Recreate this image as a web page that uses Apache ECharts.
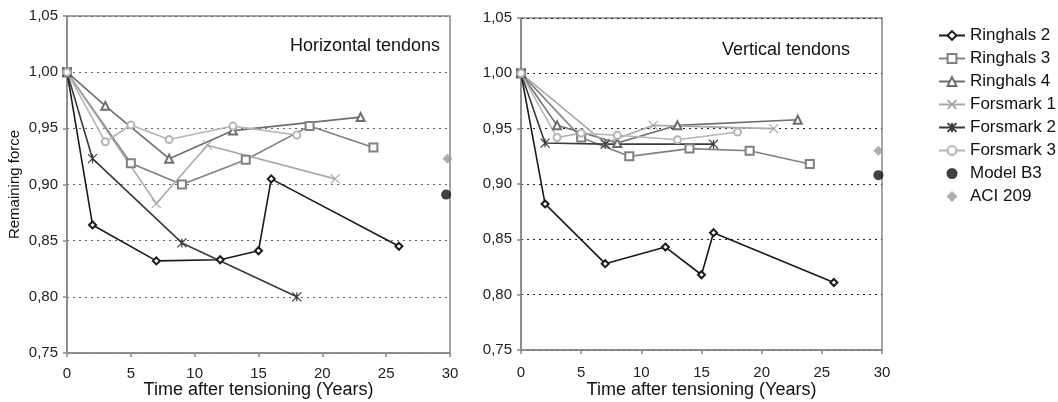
<!DOCTYPE html>
<html>
<head>
<meta charset="utf-8">
<script src="https://cdn.jsdelivr.net/npm/echarts@6/dist/echarts.min.js"></script>
<style>
html,body{margin:0;padding:0;background:#fff;}
#chart{width:1058px;height:402px;}
</style>
</head>
<body>
<div id="chart"></div>
<script>
// ---- Data ----
const seriesNames = ['Ringhals 2','Ringhals 3','Ringhals 4','Forsmark 1','Forsmark 2','Forsmark 3','Model B3','ACI 209'];
const panelTitles = ['Horizontal tendons','Vertical tendons'];
const xTicks = [0,5,10,15,20,25,30];
const yTicks = [0.75,0.80,0.85,0.90,0.95,1.00,1.05];

// Horizontal tendons [years, remaining force]
const hRinghals2 = [[0,1.000],[2,0.864],[7,0.832],[12,0.833],[15,0.841],[16,0.905],[26,0.845]];
const hRinghals3 = [[0,1.000],[5,0.919],[9,0.900],[14,0.922],[19,0.952],[24,0.933]];
const hRinghals4 = [[0,1.000],[3,0.970],[8,0.923],[13,0.948],[23,0.960]];
const hForsmark1 = [[0,1.000],[7,0.883],[11,0.935],[21,0.905]];
const hForsmark2 = [[0,1.000],[2,0.923],[9,0.848],[18,0.800]];
const hForsmark3 = [[0,1.000],[3,0.938],[5,0.953],[8,0.940],[13,0.952],[18,0.944]];
const hModelB3 = [[29.7,0.891]];
const hACI209 = [[29.8,0.923]];

// Vertical tendons
const vRinghals2 = [[0,1.000],[2,0.882],[7,0.828],[12,0.843],[15,0.818],[16,0.856],[26,0.811]];
const vRinghals3 = [[0,1.000],[5,0.942],[9,0.925],[14,0.932],[19,0.930],[24,0.918]];
const vRinghals4 = [[0,1.000],[3,0.953],[8,0.937],[13,0.953],[23,0.958]];
const vForsmark1 = [[0,1.000],[7,0.937],[11,0.953],[21,0.950]];
const vForsmark2 = [[0,1.000],[2,0.937],[7,0.936],[16,0.936]];
const vForsmark3 = [[0,1.000],[3,0.942],[5,0.946],[8,0.944],[13,0.940],[18,0.947]];
const vModelB3 = [[29.7,0.908]];
const vACI209 = [[29.7,0.930]];

// ---- Styles ----
const FONT = '"Liberation Sans", Arial, sans-serif';
const styles = {
  'Ringhals 2': {color:'#1a1a1a', symbol:'emptyDiamond', size:7},
  'Ringhals 3': {color:'#808080', symbol:'emptyRect', size:8},
  'Ringhals 4': {color:'#6e6e6e', symbol:'emptyTriangle', size:8},
  'Forsmark 1': {color:'#a8a8a8', symbol:'path://M0,0L10,10M10,0L0,10', size:9, stroke:true},
  'Forsmark 2': {color:'#3a3a3a', symbol:'path://M0,0L10,10M10,0L0,10M5,0L5,10', size:9, stroke:true},
  'Forsmark 3': {color:'#b5b5b5', symbol:'emptyCircle', size:7}
};
const CIRCLE_PATH = 'path://M5,0A5,5,0,1,1,4.99,0Z';
const DIAMOND_PATH = 'path://M5,0L10,5L5,10L0,5Z';

function lineSeries(name, data, idx){
  const s = styles[name];
  const o = {
    name, type:'line', data, xAxisIndex:idx, yAxisIndex:idx,
    symbol:s.symbol, symbolSize:s.size, showAllSymbol:true,
    lineStyle:{color:s.color, width:1.6},
    itemStyle:{color:s.color, borderColor:s.color, borderWidth:1},
    emphasis:{disabled:true}, animation:false, clip:false, z:3
  };
  if (s.stroke) o.itemStyle = {color:'rgba(0,0,0,0)', borderColor:s.color, borderWidth:1.2};
  return o;
}
function pointSeries(name, data, idx){
  const isB3 = name==='Model B3';
  return {
    name, type:'scatter', data, xAxisIndex:idx, yAxisIndex:idx,
    symbol: isB3 ? 'circle' : 'diamond', symbolSize: 10,
    itemStyle:{color: isB3 ? '#111' : '#999'},
    emphasis:{disabled:true}, animation:false, clip:false, z:4
  };
}

const panels = [
  [hRinghals2,hRinghals3,hRinghals4,hForsmark1,hForsmark2,hForsmark3,hModelB3,hACI209],
  [vRinghals2,vRinghals3,vRinghals4,vForsmark1,vForsmark2,vForsmark3,vModelB3,vACI209]
];
const series = [];
panels.forEach((p, idx) => {
  seriesNames.forEach((n, k) => {
    series.push(k < 6 ? lineSeries(n, p[k], idx) : pointSeries(n, p[k], idx));
  });
});

const grids = [
  {left:67, right:608, top:16, bottom:49},
  {left:521, right:176, top:18, bottom:52}
];
const gridLineColors = ['#666','#222'];
const xLabelMargins = [13, 15];
const xNameGaps = [28, 31];

function xAxis(idx){
  return {
    type:'value', gridIndex:idx, min:xTicks[0], max:xTicks[xTicks.length-1], interval:5,
    name:'Time after tensioning (Years)', nameLocation:'middle', nameGap:xNameGaps[idx],
    nameMoveOverlap:false,
    nameTextStyle:{fontFamily:FONT, fontSize:18, color:'#111'},
    axisLine:{show:true, lineStyle:{color:'#888', width:1.5}},
    axisTick:{show:true, length:4, lineStyle:{color:'#888', width:1.5}},
    axisLabel:{fontFamily:FONT, fontSize:15, color:'#222', margin:xLabelMargins[idx]},
    splitLine:{show:false}
  };
}
function yAxis(idx){
  return {
    type:'value', gridIndex:idx, min:yTicks[0], max:yTicks[yTicks.length-1], interval:0.05,
    name: idx===0 ? 'Remaining force' : '', nameLocation:'middle', nameGap:45,
    nameMoveOverlap:false,
    nameTextStyle:{fontFamily:FONT, fontSize:15, color:'#111'},
    axisLine:{show:true, lineStyle:{color:'#888', width:1.5}},
    axisTick:{show:true, length:4, lineStyle:{color:'#888', width:1.5}},
    axisLabel:{fontFamily:FONT, fontSize:15, color:'#222', margin:9,
      formatter:v => v.toFixed(2).replace('.',','),
      showMinLabel:true, showMaxLabel:true},
    splitLine:{show:true, lineStyle:{color:gridLineColors[idx], type:[2,4], width:1.2}},
  };
}

const legendData = seriesNames.map(n => {
  if (n === 'Model B3') return {name:n, icon:CIRCLE_PATH};
  if (n === 'ACI 209') return {name:n, icon:DIAMOND_PATH};
  return {name:n};
});

const chart = echarts.init(document.getElementById('chart'), null, {renderer:'canvas'});
chart.setOption({
  animation:false,
  backgroundColor:'#fff',
  grid: grids.map(g => Object.assign({show:true, borderColor:'#888', borderWidth:1.5, backgroundColor:'transparent', containLabel:false, outerBoundsMode:'none'}, g)),
  xAxis:[xAxis(0), xAxis(1)],
  yAxis:[yAxis(0), yAxis(1)],
  graphic:[
    {type:'text', left:290, top:37, style:{text:panelTitles[0], font:'18px ' + FONT, fill:'#111'}},
    {type:'text', left:722, top:41, style:{text:panelTitles[1], font:'18px ' + FONT, fill:'#111'}}
  ],
  legend:{
    data:legendData, orient:'vertical', left:933, top:22,
    itemWidth:26, itemHeight:11, itemGap:6, symbolKeepAspect:true,
    textStyle:{fontFamily:FONT, fontSize:17, color:'#111'},
    selectedMode:false
  },
  series
});
</script>
</body>
</html>
